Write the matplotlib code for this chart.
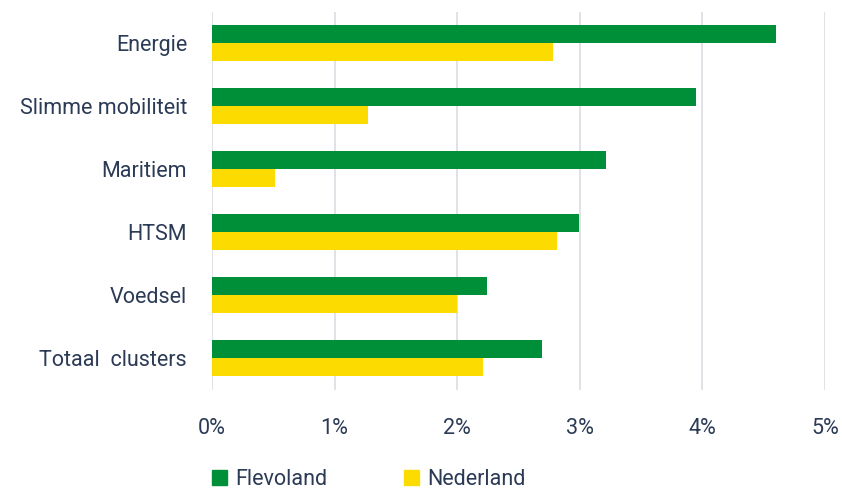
import numpy as np
import matplotlib.pyplot as plt
from matplotlib.patches import Patch

plt.rcParams['font.family'] = ['Roboto', 'DejaVu Sans']

categories = ['Energie', 'Slimme mobiliteit', 'Maritiem', 'HTSM', 'Voedsel', 'Totaal  clusters']
flevoland = [4.60, 3.95, 3.21, 2.99, 2.24, 2.69]
nederland = [2.78, 1.27, 0.51, 2.81, 2.00, 2.21]
xticks = [0, 1, 2, 3, 4, 5]

green = '#008f39'
yellow = '#fcdc00'
txt = '#2b3a55'

fig = plt.figure(figsize=(8.42, 4.93), dpi=100)
ax = fig.add_axes([0.2518, 0.209, 0.728, 0.767])

y = np.arange(len(categories))
h = 0.286
ax.barh(y - h / 2, flevoland, height=h, color=green, zorder=3)
ax.barh(y + h / 2, nederland, height=h, color=yellow, zorder=3)

ax.set_ylim(len(categories) - 0.5, -0.5)
ax.set_xlim(0, 5)
ax.set_yticks(y)
ax.set_yticklabels(categories)
ax.set_xticks(xticks)
ax.set_xticklabels([f'{t}%' for t in xticks])

ax.grid(axis='x', color='#dcdde3', linewidth=1.2, zorder=0)
for s in ax.spines.values():
    s.set_visible(False)
ax.tick_params(axis='both', length=0, labelsize=15.5, colors=txt)
ax.tick_params(axis='x', pad=20)
ax.tick_params(axis='y', pad=18)

handles = [Patch(color=green, label='Flevoland'), Patch(color=yellow, label='Nederland')]
fig.legend(handles=handles, loc='lower left', bbox_to_anchor=(0.229, -0.034), ncol=2,
           frameon=False, fontsize=15.5, labelcolor=txt, handlelength=0.7, handleheight=0.7,
           handletextpad=0.35, columnspacing=3.6)

fig.savefig('out.png', dpi=100)
